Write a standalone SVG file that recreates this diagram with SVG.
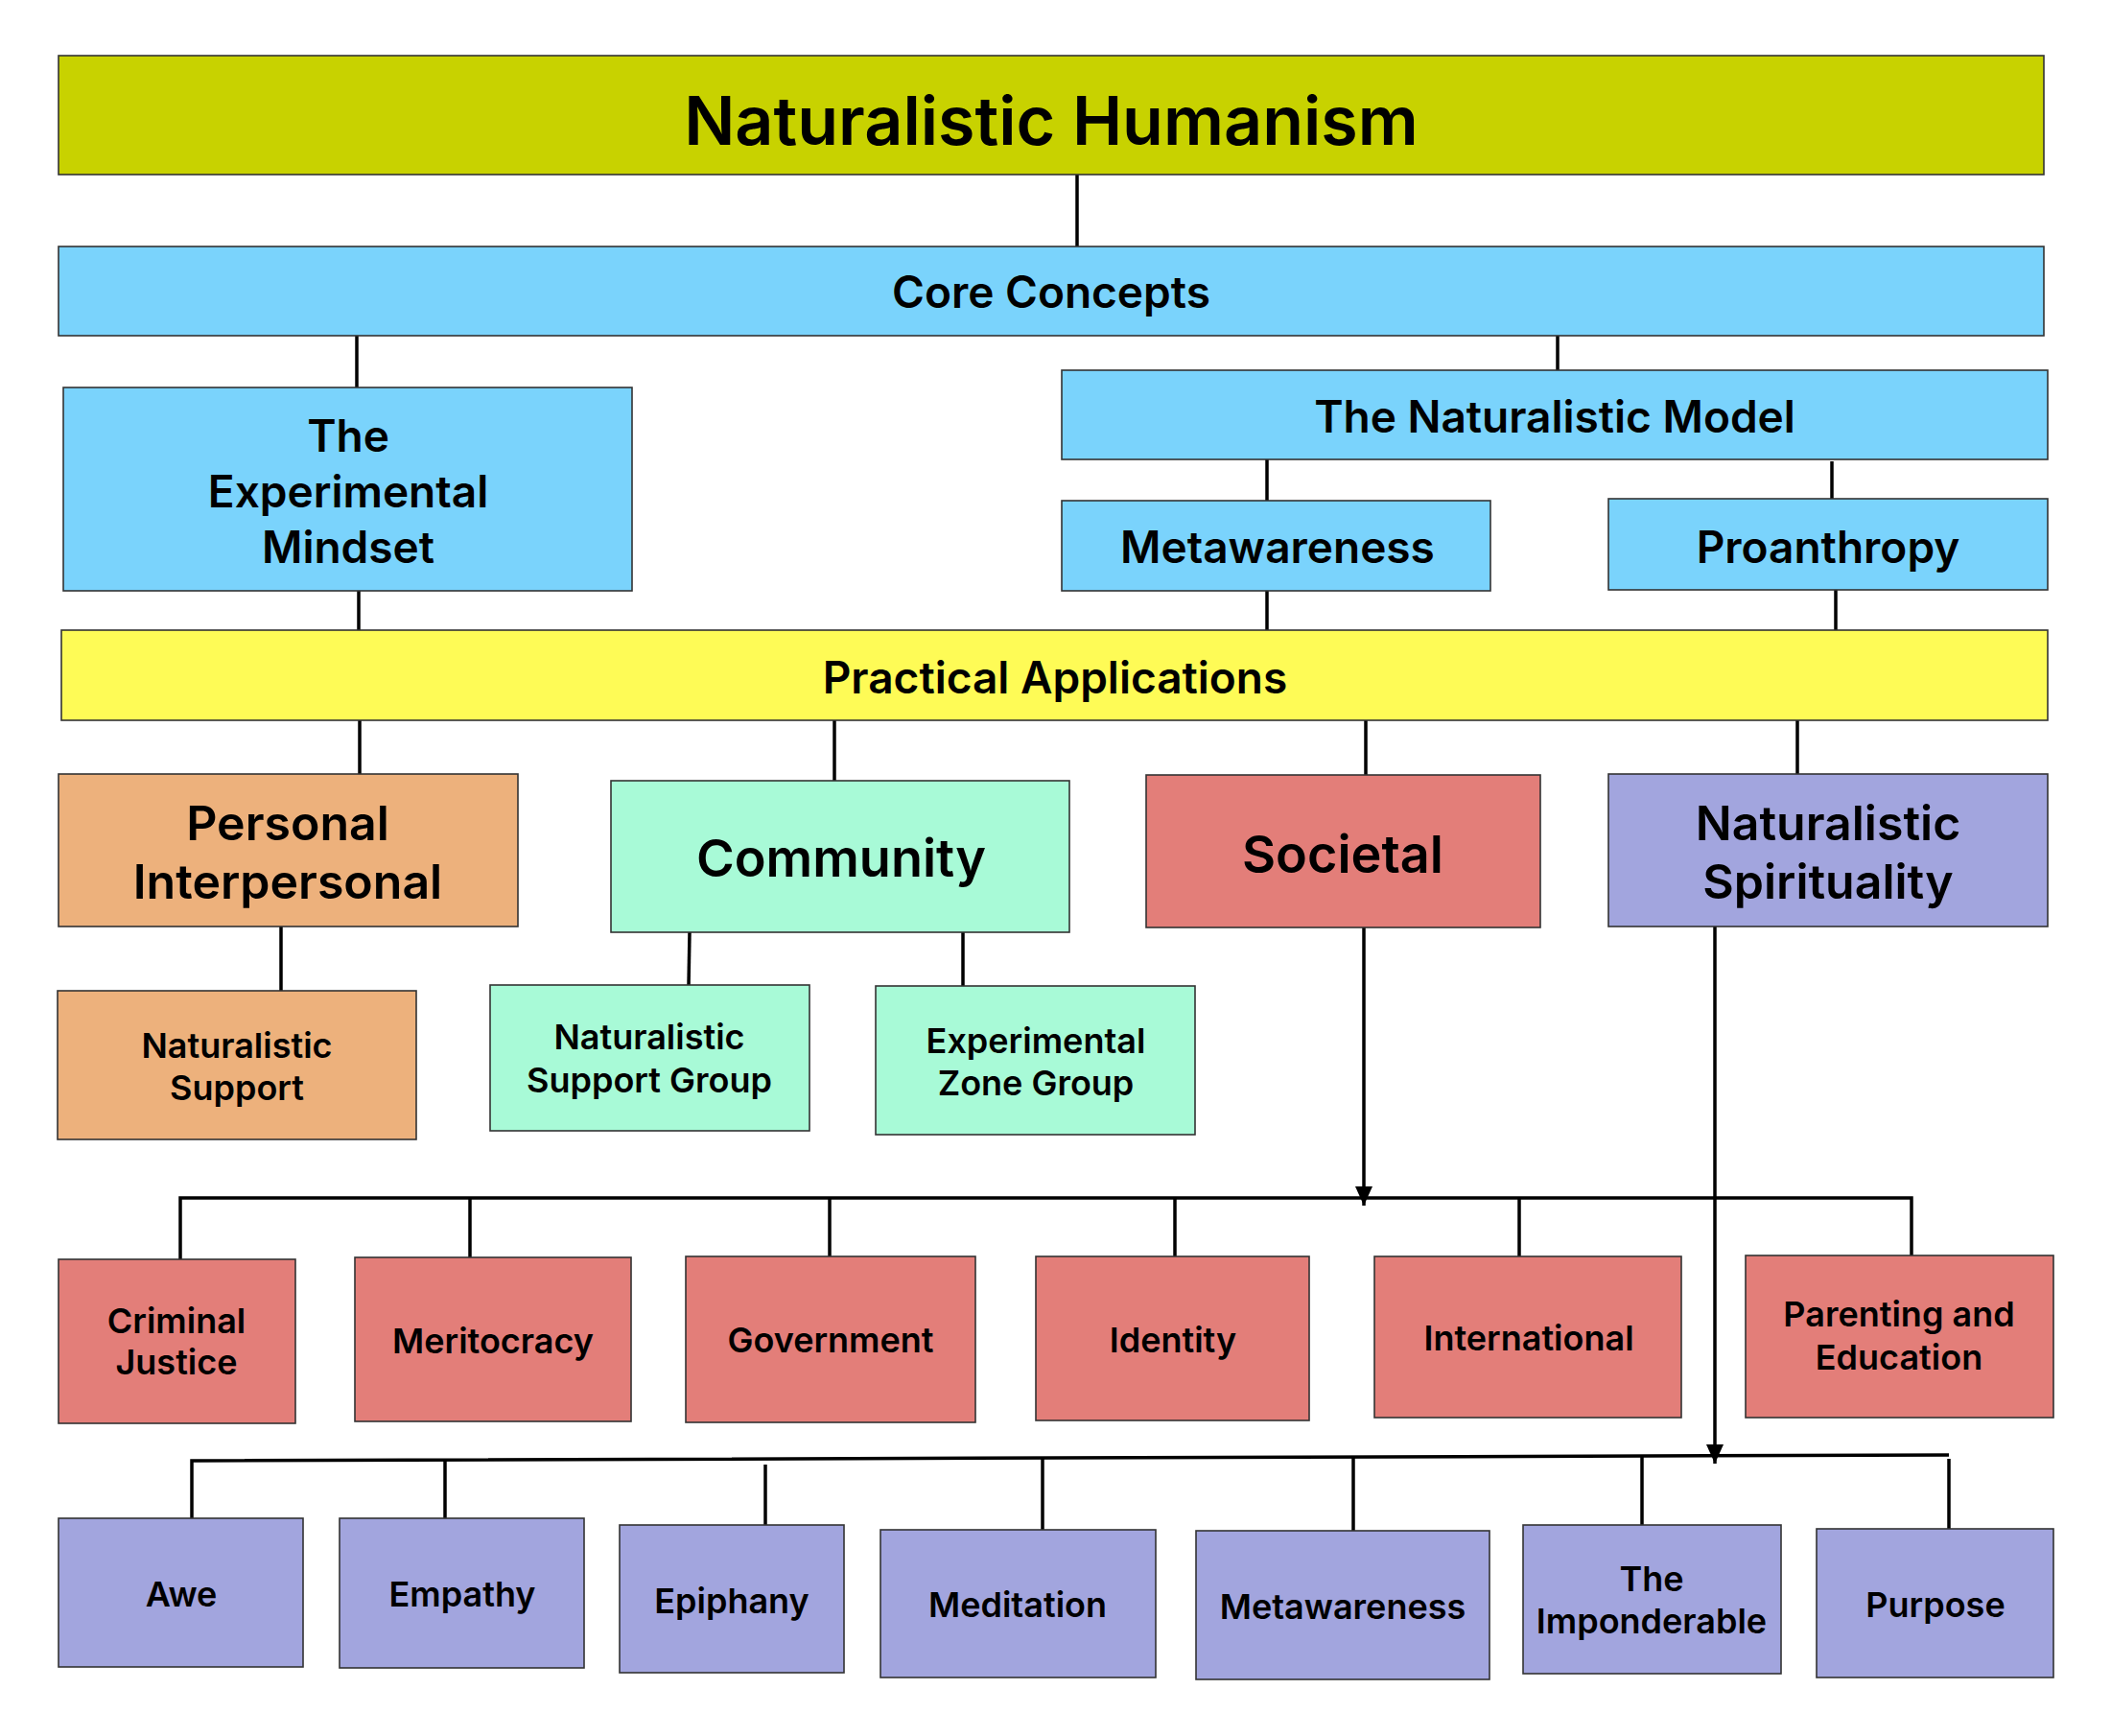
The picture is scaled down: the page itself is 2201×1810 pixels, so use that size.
<svg xmlns="http://www.w3.org/2000/svg" width="2201" height="1810" viewBox="0 0 2201 1810">
<style>
text{font-family:Inter,"Liberation Sans",Arial,sans-serif;font-weight:600;fill:#000;text-anchor:middle}
.box{stroke:#333;stroke-width:1.6}
.olive{fill:#C8D200}.blue{fill:#7AD3FC}.yel{fill:#FEFB56}.org{fill:#EDB17C}.mint{fill:#A8FAD7}.red{fill:#E37E79}.pur{fill:#A2A5DE}
.t72{font-size:70px}.t46{font-size:46px}.t50{font-size:50px}.t54{font-size:54px}.t36{font-size:36px}
.c{fill:none;stroke:#000;stroke-width:3.5}
</style>
<defs>
<marker id="ah" viewBox="0 0 20 18" refX="20" refY="9" markerWidth="20" markerHeight="18" markerUnits="userSpaceOnUse" orient="auto"><path d="M0,0 L20,9 L0,18 z" fill="#000"/></marker>
</defs>
<rect width="2201" height="1810" fill="#fff"/>
<g id="connectors">
<path class="c" d="M1123,182V257"/>
<path class="c" d="M372,350V404"/>
<path class="c" d="M1624,350V386"/>
<path class="c" d="M1321,479V522"/>
<path class="c" d="M1910,481V520"/>
<path class="c" d="M374,616V657"/>
<path class="c" d="M1321,616V657"/>
<path class="c" d="M1914,615V661"/>
<path class="c" d="M375,751V807"/>
<path class="c" d="M870,751V814"/>
<path class="c" d="M1424,751V808"/>
<path class="c" d="M1874,751V807"/>
<path class="c" d="M293,966V1033"/>
<path class="c" d="M719,972L718,1027"/>
<path class="c" d="M1004,972V1028"/>
<path class="c" d="M188,1313V1249H1993V1313"/>
<path class="c" d="M490,1249V1311"/>
<path class="c" d="M865,1249V1310"/>
<path class="c" d="M1225,1249V1310"/>
<path class="c" d="M1584,1249V1310"/>
<path class="c" d="M1422,967V1257" marker-end="url(#ah)"/>
<path class="c" d="M200,1594V1523L2032,1517"/>
<path class="c" d="M464,1522V1588"/>
<path class="c" d="M798,1527V1595"/>
<path class="c" d="M1087,1520V1596"/>
<path class="c" d="M1411,1519V1599"/>
<path class="c" d="M1712,1518V1592"/>
<path class="c" d="M2032,1521V1594"/>
<path class="c" d="M1788,966V1526" marker-end="url(#ah)"/>
</g>
<g id="n-title"><rect class="box olive" x="61" y="58" width="2070" height="124"/><text class="t72" x="1096" y="151">Naturalistic Humanism</text></g>
<g id="n-core"><rect class="box blue" x="61" y="257" width="2070" height="93"/><text class="t46" x="1096" y="321">Core Concepts</text></g>
<g id="n-expmind"><rect class="box blue" x="66" y="404" width="593" height="212"/><text class="t46" x="363" y="471">The</text><text class="t46" x="363" y="529">Experimental</text><text class="t46" x="363" y="587">Mindset</text></g>
<g id="n-model"><rect class="box blue" x="1107" y="386" width="1028" height="93"/><text class="t46" x="1621" y="451">The Naturalistic Model</text></g>
<g id="n-meta"><rect class="box blue" x="1107" y="522" width="447" height="94"/><text class="t46" x="1332" y="587">Metawareness</text></g>
<g id="n-proan"><rect class="box blue" x="1677" y="520" width="458" height="95"/><text class="t46" x="1906" y="587">Proanthropy</text></g>
<g id="n-practical"><rect class="box yel" x="64" y="657" width="2071" height="94"/><text class="t46" x="1100" y="723">Practical Applications</text></g>
<g id="n-personal"><rect class="box org" x="61" y="807" width="479" height="159"/><text class="t50" x="300" y="876">Personal</text><text class="t50" x="300" y="937">Interpersonal</text></g>
<g id="n-community"><rect class="box mint" x="637" y="814" width="478" height="158"/><text class="t54" x="877" y="914">Community</text></g>
<g id="n-societal"><rect class="box red" x="1195" y="808" width="411" height="159"/><text class="t54" x="1400" y="910">Societal</text></g>
<g id="n-spirit"><rect class="box pur" x="1677" y="807" width="458" height="159"/><text class="t50" x="1906" y="876">Naturalistic</text><text class="t50" x="1906" y="937">Spirituality</text></g>
<g id="n-natsupport"><rect class="box org" x="60" y="1033" width="374" height="155"/><text class="t36" x="247" y="1103">Naturalistic</text><text class="t36" x="247" y="1147">Support</text></g>
<g id="n-nsg"><rect class="box mint" x="511" y="1027" width="333" height="152"/><text class="t36" x="677" y="1094">Naturalistic</text><text class="t36" x="677" y="1139">Support Group</text></g>
<g id="n-ezg"><rect class="box mint" x="913" y="1028" width="333" height="155"/><text class="t36" x="1080" y="1098">Experimental</text><text class="t36" x="1080" y="1142">Zone Group</text></g>
<g id="n-criminal"><rect class="box red" x="61" y="1313" width="247" height="171"/><text class="t36" x="184" y="1390">Criminal</text><text class="t36" x="184" y="1433">Justice</text></g>
<g id="n-merit"><rect class="box red" x="370" y="1311" width="288" height="171"/><text class="t36" x="514" y="1411">Meritocracy</text></g>
<g id="n-gov"><rect class="box red" x="715" y="1310" width="302" height="173"/><text class="t36" x="866" y="1410">Government</text></g>
<g id="n-identity"><rect class="box red" x="1080" y="1310" width="285" height="171"/><text class="t36" x="1223" y="1410">Identity</text></g>
<g id="n-intl"><rect class="box red" x="1433" y="1310" width="320" height="168"/><text class="t36" x="1594" y="1408">International</text></g>
<g id="n-parenting"><rect class="box red" x="1820" y="1309" width="321" height="169"/><text class="t36" x="1980" y="1383">Parenting and</text><text class="t36" x="1980" y="1428">Education</text></g>
<g id="n-awe"><rect class="box pur" x="61" y="1583" width="255" height="155"/><text class="t36" x="189" y="1675">Awe</text></g>
<g id="n-empathy"><rect class="box pur" x="354" y="1583" width="255" height="156"/><text class="t36" x="482" y="1675">Empathy</text></g>
<g id="n-epiphany"><rect class="box pur" x="646" y="1590" width="234" height="154"/><text class="t36" x="763" y="1682">Epiphany</text></g>
<g id="n-meditation"><rect class="box pur" x="918" y="1595" width="287" height="154"/><text class="t36" x="1061" y="1686">Meditation</text></g>
<g id="n-meta2"><rect class="box pur" x="1247" y="1596" width="306" height="155"/><text class="t36" x="1400" y="1688">Metawareness</text></g>
<g id="n-impond"><rect class="box pur" x="1588" y="1590" width="269" height="155"/><text class="t36" x="1722" y="1659">The</text><text class="t36" x="1722" y="1703">Imponderable</text></g>
<g id="n-purpose"><rect class="box pur" x="1894" y="1594" width="247" height="155"/><text class="t36" x="2018" y="1686">Purpose</text></g>
</svg>
